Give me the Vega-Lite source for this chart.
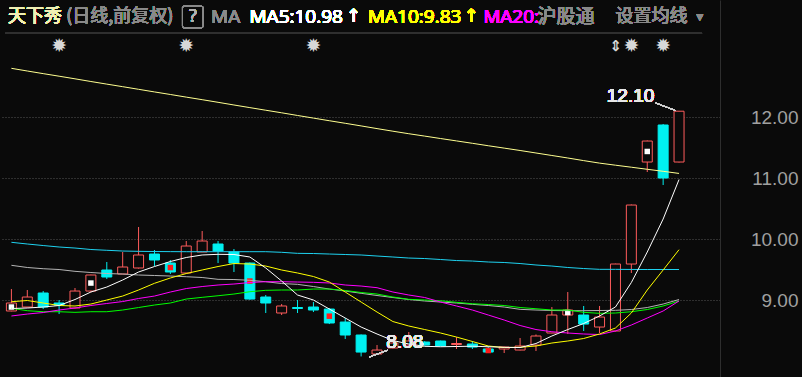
{
  "$schema": "https://vega.github.io/schema/vega-lite/v6.json",
  "autosize": "none",
  "width": 720,
  "height": 377,
  "padding": {"left": 0, "top": 0, "right": 82, "bottom": 0},
  "background": "#0a0a0a",
  "config": {"view": {"stroke": null}},
  "datasets": {
    "k": [
      {"i":1,"o":8.825,"h":9.185,"l":8.82,"c":8.956,"ma5":8.866,"ma10":8.977,"ma20":8.743,"ma30":8.869,"ma60":9.574,"ma120":9.951,"ma250":12.803,"sq":8.89,"sqc":"w"},
      {"i":2,"o":8.89,"h":9.169,"l":8.885,"c":9.054,"ma5":8.874,"ma10":8.997,"ma20":8.775,"ma30":8.83,"ma60":9.538,"ma120":9.923,"ma250":12.759},
      {"i":3,"o":9.12,"h":9.152,"l":8.857,"c":8.89,"ma5":8.89,"ma10":8.956,"ma20":8.8,"ma30":8.813,"ma60":9.518,"ma120":9.898,"ma250":12.716},
      {"i":4,"o":8.956,"h":9.005,"l":8.775,"c":8.923,"ma5":8.915,"ma10":8.915,"ma20":8.841,"ma30":8.813,"ma60":9.505,"ma120":9.874,"ma250":12.674,"ev":"star"},
      {"i":5,"o":8.874,"h":9.202,"l":8.87,"c":9.152,"ma5":9.013,"ma10":8.907,"ma20":8.874,"ma30":8.803,"ma60":9.475,"ma120":9.857,"ma250":12.631},
      {"i":6,"o":9.152,"h":9.42,"l":9.13,"c":9.415,"ma5":9.136,"ma10":8.939,"ma20":8.915,"ma30":8.813,"ma60":9.456,"ma120":9.833,"ma250":12.587,"sq":9.283,"sqc":"w"},
      {"i":7,"o":9.497,"h":9.628,"l":9.349,"c":9.382,"ma5":9.218,"ma10":9.005,"ma20":8.948,"ma30":8.813,"ma60":9.439,"ma120":9.82,"ma250":12.544},
      {"i":8,"o":9.431,"h":9.792,"l":9.43,"c":9.546,"ma5":9.333,"ma10":9.07,"ma20":8.98,"ma30":8.841,"ma60":9.431,"ma120":9.808,"ma250":12.502},
      {"i":9,"o":9.53,"h":10.202,"l":9.52,"c":9.743,"ma5":9.464,"ma10":9.169,"ma20":9.03,"ma30":8.882,"ma60":9.415,"ma120":9.803,"ma250":12.459},
      {"i":10,"o":9.759,"h":9.825,"l":9.562,"c":9.661,"ma5":9.554,"ma10":9.279,"ma20":9.07,"ma30":8.923,"ma60":9.407,"ma120":9.8,"ma250":12.416},
      {"i":11,"o":9.611,"h":9.661,"l":9.431,"c":9.464,"ma5":9.636,"ma10":9.366,"ma20":9.136,"ma30":8.956,"ma60":9.398,"ma120":9.798,"ma250":12.374,"sq":9.537,"sqc":"r"},
      {"i":12,"o":9.448,"h":9.972,"l":9.44,"c":9.89,"ma5":9.702,"ma10":9.439,"ma20":9.193,"ma30":9.021,"ma60":9.387,"ma120":9.797,"ma250":12.331,"ev":"star"},
      {"i":13,"o":9.792,"h":10.136,"l":9.79,"c":9.972,"ma5":9.743,"ma10":9.497,"ma20":9.226,"ma30":9.049,"ma60":9.374,"ma120":9.797,"ma250":12.289},
      {"i":14,"o":9.923,"h":9.972,"l":9.611,"c":9.808,"ma5":9.754,"ma10":9.554,"ma20":9.251,"ma30":9.075,"ma60":9.344,"ma120":9.797,"ma250":12.246},
      {"i":15,"o":9.792,"h":9.841,"l":9.464,"c":9.611,"ma5":9.751,"ma10":9.603,"ma20":9.267,"ma30":9.103,"ma60":9.341,"ma120":9.797,"ma250":12.202},
      {"i":16,"o":9.611,"h":9.62,"l":9.01,"c":9.021,"ma5":9.71,"ma10":9.595,"ma20":9.292,"ma30":9.141,"ma60":9.328,"ma120":9.797,"ma250":12.159,"sq":9.316,"sqc":"r"},
      {"i":17,"o":9.054,"h":9.087,"l":8.792,"c":8.956,"ma5":9.53,"ma10":9.562,"ma20":9.305,"ma30":9.164,"ma60":9.305,"ma120":9.797,"ma250":12.116},
      {"i":18,"o":8.792,"h":8.939,"l":8.759,"c":8.907,"ma5":9.316,"ma10":9.497,"ma20":9.305,"ma30":9.169,"ma60":9.275,"ma120":9.787,"ma250":12.074},
      {"i":19,"o":8.882,"h":9.005,"l":8.792,"c":8.866,"ma5":9.087,"ma10":9.448,"ma20":9.3,"ma30":9.169,"ma60":9.262,"ma120":9.77,"ma250":12.03},
      {"i":20,"o":8.89,"h":8.972,"l":8.808,"c":8.841,"ma5":9.005,"ma10":9.39,"ma20":9.295,"ma30":9.185,"ma60":9.226,"ma120":9.767,"ma250":11.987,"ev":"star"},
      {"i":21,"o":8.857,"h":8.874,"l":8.611,"c":8.628,"ma5":8.857,"ma10":9.3,"ma20":9.284,"ma30":9.185,"ma60":9.185,"ma120":9.759,"ma250":11.944,"sq":8.74,"sqc":"r"},
      {"i":22,"o":8.644,"h":8.71,"l":8.366,"c":8.431,"ma5":8.71,"ma10":9.136,"ma20":9.251,"ma30":9.161,"ma60":9.152,"ma120":9.751,"ma250":11.902},
      {"i":23,"o":8.431,"h":8.44,"l":8.08,"c":8.152,"ma5":8.562,"ma10":8.972,"ma20":9.234,"ma30":9.128,"ma60":9.115,"ma120":9.743,"ma250":11.859},
      {"i":24,"o":8.12,"h":8.267,"l":8.11,"c":8.185,"ma5":8.448,"ma10":8.808,"ma20":9.207,"ma30":9.103,"ma60":9.079,"ma120":9.726,"ma250":11.815},
      {"i":25,"o":8.218,"h":8.31,"l":8.21,"c":8.3,"ma5":8.341,"ma10":8.652,"ma20":9.136,"ma30":9.054,"ma60":9.046,"ma120":9.71,"ma250":11.772},
      {"i":26,"o":8.267,"h":8.48,"l":8.26,"c":8.333,"ma5":8.284,"ma10":8.579,"ma20":9.087,"ma30":9.016,"ma60":9.013,"ma120":9.693,"ma250":11.731},
      {"i":27,"o":8.316,"h":8.33,"l":8.26,"c":8.267,"ma5":8.246,"ma10":8.521,"ma20":9.046,"ma30":9.005,"ma60":8.989,"ma120":9.685,"ma250":11.692},
      {"i":28,"o":8.333,"h":8.34,"l":8.25,"c":8.251,"ma5":8.239,"ma10":8.464,"ma20":8.972,"ma30":8.993,"ma60":8.972,"ma120":9.669,"ma250":11.652},
      {"i":29,"o":8.275,"h":8.398,"l":8.202,"c":8.292,"ma5":8.243,"ma10":8.398,"ma20":8.907,"ma30":8.967,"ma60":8.956,"ma120":9.652,"ma250":11.613},
      {"i":30,"o":8.284,"h":8.333,"l":8.202,"c":8.234,"ma5":8.248,"ma10":8.325,"ma20":8.841,"ma30":8.944,"ma60":8.934,"ma120":9.644,"ma250":11.574},
      {"i":31,"o":8.202,"h":8.251,"l":8.136,"c":8.152,"ma5":8.239,"ma10":8.251,"ma20":8.759,"ma30":8.931,"ma60":8.915,"ma120":9.628,"ma250":11.534,"sq":8.177,"sqc":"r"},
      {"i":32,"o":8.202,"h":8.24,"l":8.136,"c":8.234,"ma5":8.23,"ma10":8.226,"ma20":8.677,"ma30":8.915,"ma60":8.89,"ma120":9.62,"ma250":11.495},
      {"i":33,"o":8.185,"h":8.382,"l":8.18,"c":8.251,"ma5":8.226,"ma10":8.23,"ma20":8.587,"ma30":8.882,"ma60":8.852,"ma120":9.603,"ma250":11.456},
      {"i":34,"o":8.267,"h":8.44,"l":8.169,"c":8.415,"ma5":8.292,"ma10":8.251,"ma20":8.521,"ma30":8.862,"ma60":8.841,"ma120":9.579,"ma250":11.415},
      {"i":35,"o":8.464,"h":8.89,"l":8.46,"c":8.759,"ma5":8.415,"ma10":8.3,"ma20":8.485,"ma30":8.841,"ma60":8.833,"ma120":9.562,"ma250":11.374},
      {"i":36,"o":8.759,"h":9.136,"l":8.448,"c":8.841,"ma5":8.521,"ma10":8.333,"ma20":8.464,"ma30":8.841,"ma60":8.83,"ma120":9.538,"ma250":11.333,"sq":8.8,"sqc":"w"},
      {"i":37,"o":8.759,"h":8.907,"l":8.497,"c":8.611,"ma5":8.62,"ma10":8.374,"ma20":8.448,"ma30":8.803,"ma60":8.83,"ma120":9.521,"ma250":11.29},
      {"i":38,"o":8.562,"h":8.907,"l":8.464,"c":8.726,"ma5":8.743,"ma10":8.448,"ma20":8.439,"ma30":8.787,"ma60":8.833,"ma120":9.508,"ma250":11.249},
      {"i":39,"o":8.497,"h":9.6,"l":8.49,"c":9.595,"ma5":8.89,"ma10":8.546,"ma20":8.497,"ma30":8.792,"ma60":8.836,"ma120":9.508,"ma250":11.215,"ev":"arrow"},
      {"i":40,"o":9.595,"h":10.57,"l":9.448,"c":10.562,"ma5":9.292,"ma10":8.792,"ma20":8.595,"ma30":8.813,"ma60":8.849,"ma120":9.506,"ma250":11.182,"ev":"star"},
      {"i":41,"o":11.267,"h":11.62,"l":11.103,"c":11.611,"ma5":9.792,"ma10":9.169,"ma20":8.71,"ma30":8.849,"ma60":8.882,"ma120":9.505,"ma250":11.148,"sq":11.44,"sqc":"w"},
      {"i":42,"o":11.874,"h":11.89,"l":10.89,"c":11.005,"ma5":10.333,"ma10":9.497,"ma20":8.825,"ma30":8.907,"ma60":8.939,"ma120":9.505,"ma250":11.115,"ev":"star"},
      {"i":43,"o":11.267,"h":12.1,"l":11.26,"c":12.1,"ma5":10.98,"ma10":9.83,"ma20":8.989,"ma30":8.989,"ma60":9.013,"ma120":9.505,"ma250":11.08}
    ]
  },
  "data": {"name": "k"},
  "layer": [
    {
      "mark": {"type": "rule", "color": "#303030", "strokeWidth": 1},
      "encoding": {
        "x": {"datum": 0.6, "type": "quantitative", "scale": {"domain": [0.597, 45.262], "nice": false, "zero": false}, "axis": null},
        "x2": {"datum": 44.45},
        "y": {"datum": 13.382, "type": "quantitative", "scale": {"domain": [7.743, 13.923], "nice": false, "zero": false},
          "axis": {"orient": "right", "values": [9, 10, 11, 12], "format": ".2f", "title": null, "grid": true, "gridColor": "#555555", "gridDash": [1, 2], "gridWidth": 1, "ticks": false, "domain": true, "domainColor": "#2e2e2e", "labelAlign": "right", "labelBaseline": "middle", "labelPadding": 78, "labelColor": "#a0a0a0", "labelFontSize": 19, "labelFont": "Liberation Sans"}}
      }
    },
    {
      "mark": {"type": "rule", "strokeWidth": 1},
      "encoding": {
        "x": {"field": "i", "type": "quantitative"},
        "y": {"field": "l", "type": "quantitative"},
        "y2": {"field": "h"},
        "color": {"condition": {"test": "datum.c >= datum.o", "value": "#ff5c5c"}, "value": "#00f0f0"}
      }
    },
    {
      "mark": {"type": "bar", "size": 10, "strokeWidth": 1},
      "encoding": {
        "x": {"field": "i", "type": "quantitative"},
        "y": {"field": "o", "type": "quantitative"},
        "y2": {"field": "c"},
        "fill": {"condition": {"test": "datum.c >= datum.o", "value": "#0a0a0a"}, "value": "#00f0f0"},
        "stroke": {"condition": {"test": "datum.c >= datum.o", "value": "#ff5c5c"}, "value": "#00f0f0"}
      }
    },
    {
      "transform": [{"filter": "isValid(datum.sq)"}],
      "mark": {"type": "point", "shape": "square", "filled": true, "size": 30, "opacity": 1},
      "encoding": {
        "x": {"field": "i", "type": "quantitative"},
        "y": {"field": "sq", "type": "quantitative"},
        "color": {"field": "sqc", "type": "nominal", "scale": {"domain": ["w", "r"], "range": ["#ffffff", "#ff1a1a"]}, "legend": null}
      }
    },
    {
      "transform": [{"fold": ["ma250", "ma120", "ma60", "ma30", "ma20", "ma10", "ma5"], "as": ["k", "v"]}],
      "mark": {"type": "line", "strokeWidth": 1},
      "encoding": {
        "x": {"field": "i", "type": "quantitative"},
        "y": {"field": "v", "type": "quantitative"},
        "stroke": {"field": "k", "type": "nominal", "scale": {"domain": ["ma250", "ma120", "ma60", "ma30", "ma20", "ma10", "ma5"], "range": ["#ffff90", "#1ed2f0", "#b4b4b4", "#00ff00", "#ff00ff", "#ffff00", "#ffffff"]}, "legend": null}
      }
    },
    {
      "transform": [{"filter": "datum.ev == 'star'"}],
      "mark": {"type": "text", "text": "✹", "fontSize": 19, "color": "#d8d8d8", "baseline": "middle", "align": "center", "font": "DejaVu Sans"},
      "encoding": {
        "x": {"field": "i", "type": "quantitative"},
        "y": {"datum": 13.17}
      }
    },
    {
      "transform": [{"filter": "datum.ev == 'arrow'"}],
      "mark": {"type": "text", "text": "⇕", "fontSize": 15, "fontWeight": "bold", "color": "#d8d8d8", "baseline": "middle", "align": "center", "font": "DejaVu Sans"},
      "encoding": {
        "x": {"field": "i", "type": "quantitative"},
        "y": {"datum": 13.17}
      }
    },
    {
      "mark": {"type": "text", "text": "12.10", "fontSize": 19, "color": "#e8e8e8", "baseline": "middle", "align": "center", "font": "Liberation Sans"},
      "encoding": {"x": {"datum": 39.95}, "y": {"datum": 12.357}}
    },
    {
      "mark": {"type": "rule", "color": "#d0d0d0", "strokeWidth": 1},
      "encoding": {"x": {"datum": 41.54}, "x2": {"datum": 42.78}, "y": {"datum": 12.234}, "y2": {"datum": 12.111}}
    },
    {
      "mark": {"type": "text", "text": "8.08", "fontSize": 19, "color": "#e8e8e8", "baseline": "middle", "align": "center", "font": "Liberation Sans"},
      "encoding": {"x": {"datum": 25.75}, "y": {"datum": 8.316}}
    },
    {
      "mark": {"type": "rule", "color": "#d0d0d0", "strokeWidth": 1},
      "encoding": {"x": {"datum": 24.69}, "x2": {"datum": 23.51}, "y": {"datum": 8.185}, "y2": {"datum": 8.07}}
    },
    {
      "mark": {"type": "text", "text": "天下秀", "fontSize": 18, "color": "#f0f0b4", "baseline": "middle", "align": "left", "font": "Noto Sans CJK SC"},
      "encoding": {"x": {"datum": 0.783}, "y": {"datum": 13.643}}
    },
    {
      "mark": {"type": "text", "text": "(日线,前复权)", "fontSize": 18, "color": "#8a8a8a", "baseline": "middle", "align": "left", "font": "Noto Sans CJK SC"},
      "encoding": {"x": {"datum": 4.443}, "y": {"datum": 13.643}}
    },
    {
      "mark": {"type": "rect", "fill": null, "stroke": "#8a8a8a", "strokeWidth": 1, "cornerRadius": 2},
      "encoding": {"x": {"datum": 11.763}, "x2": {"datum": 13.066}, "y": {"datum": 13.825}, "y2": {"datum": 13.464}}
    },
    {
      "mark": {"type": "text", "text": "?", "fontSize": 18, "color": "#b0b0b0", "baseline": "middle", "align": "center", "font": "Open Sans"},
      "encoding": {"x": {"datum": 12.414}, "y": {"datum": 13.643}}
    },
    {
      "mark": {"type": "text", "text": "MA", "fontSize": 19, "color": "#8a8a8a", "baseline": "middle", "align": "left", "font": "Open Sans"},
      "encoding": {"x": {"datum": 13.56}, "y": {"datum": 13.643}}
    },
    {
      "mark": {"type": "text", "text": "MA5:10.98", "fontSize": 19, "color": "#ffffff", "baseline": "middle", "align": "left", "font": "Open Sans"},
      "encoding": {"x": {"datum": 15.98}, "y": {"datum": 13.643}}
    },
    {
      "mark": {"type": "text", "text": "↑", "fontSize": 18, "color": "#ffffff", "baseline": "middle", "align": "left", "font": "DejaVu Sans"},
      "encoding": {"x": {"datum": 22.05}, "y": {"datum": 13.643}}
    },
    {
      "mark": {"type": "text", "text": "MA10:9.83", "fontSize": 19, "color": "#ffff00", "baseline": "middle", "align": "left", "font": "Open Sans"},
      "encoding": {"x": {"datum": 23.43}, "y": {"datum": 13.643}}
    },
    {
      "mark": {"type": "text", "text": "↑", "fontSize": 18, "color": "#ffff00", "baseline": "middle", "align": "left", "font": "DejaVu Sans"},
      "encoding": {"x": {"datum": 29.45}, "y": {"datum": 13.643}}
    },
    {
      "mark": {"type": "text", "text": "MA20:", "fontSize": 19, "color": "#ff00ff", "baseline": "middle", "align": "left", "font": "Open Sans"},
      "encoding": {"x": {"datum": 30.68}, "y": {"datum": 13.643}}
    },
    {
      "mark": {"type": "text", "text": "沪股通", "fontSize": 19, "color": "#8a8a8a", "baseline": "middle", "align": "left", "font": "Noto Sans CJK SC"},
      "encoding": {"x": {"datum": 34.1}, "y": {"datum": 13.643}}
    },
    {
      "mark": {"type": "text", "text": "设置均线", "fontSize": 18, "color": "#8a8a8a", "baseline": "middle", "align": "left", "font": "Noto Sans CJK SC"},
      "encoding": {"x": {"datum": 39.0}, "y": {"datum": 13.643}}
    },
    {
      "mark": {"type": "text", "text": "▾", "fontSize": 13, "color": "#8a8a8a", "baseline": "middle", "align": "left", "font": "DejaVu Sans"},
      "encoding": {"x": {"datum": 44.1}, "y": {"datum": 13.643}}
    }
  ]
}
